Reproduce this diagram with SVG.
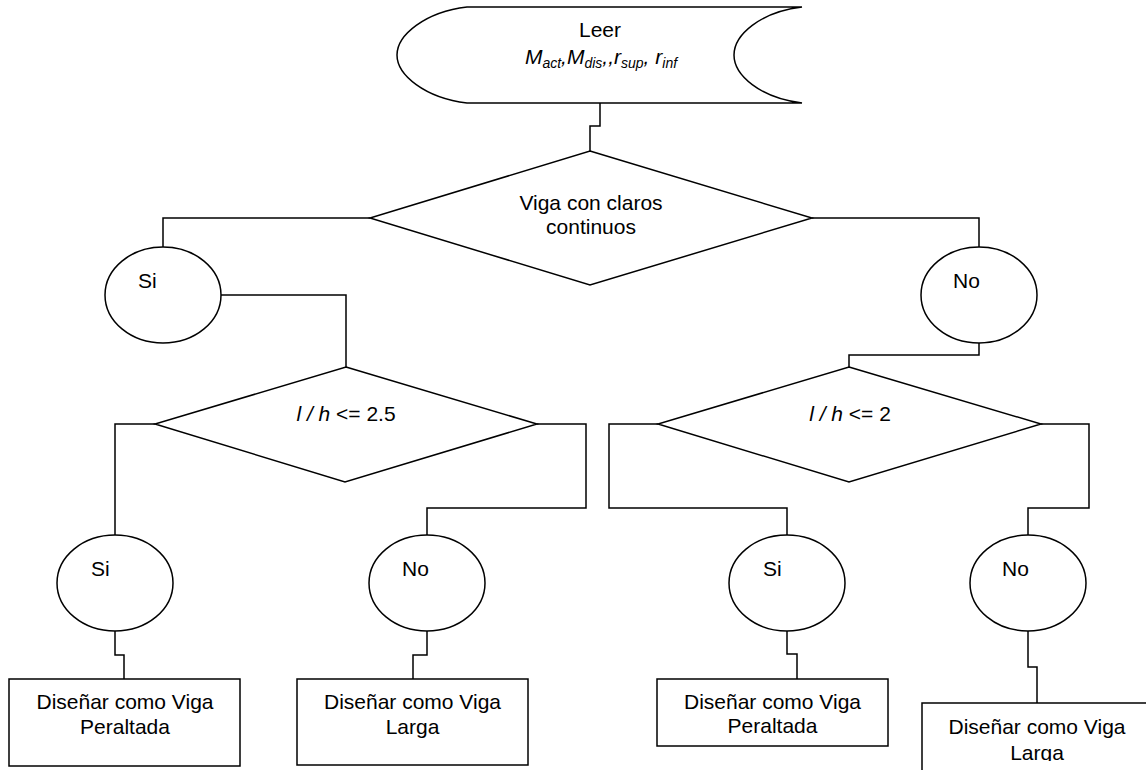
<svg xmlns="http://www.w3.org/2000/svg" width="1146" height="770" viewBox="0 0 1146 770">
<style>
.s{fill:#fff;stroke:#000;stroke-width:1.5}
.c{fill:none;stroke:#000;stroke-width:1.5}
text{font-family:"Liberation Sans",Arial,sans-serif;font-size:21px;fill:#000}
.m{text-anchor:middle}
.i{font-style:italic}
.sub{font-size:14px}
</style>
<defs>
<clipPath id="clip4"><rect x="922" y="703" width="230" height="58"/></clipPath>
</defs>
<rect width="1146" height="770" fill="#fff"/>
<g id="connectors">
<polyline class="c" points="600,103 600,126 590,126 590,151"/>
<polyline class="c" points="370,218 163,218 163,247"/>
<polyline class="c" points="812,218 979,218 979,247"/>
<polyline class="c" points="221,295 346,295 346,367"/>
<polyline class="c" points="979,343 979,355 849,355 849,367"/>
<polyline class="c" points="155,424 115,424 115,535"/>
<polyline class="c" points="537,424 586,424 586,508 427,508 427,535"/>
<polyline class="c" points="658,424 609,424 609,508 787,508 787,535"/>
<polyline class="c" points="1041,424 1089,424 1089,508 1028,508 1028,535"/>
<polyline class="c" points="115,631 115,655 124,655 124,679"/>
<polyline class="c" points="427,631 427,655 413,655 413,679"/>
<polyline class="c" points="787,631 787,654 797,654 797,679"/>
<polyline class="c" points="1028,631 1028,667 1037,667 1037,703"/>
</g>
<g id="leer">
<path class="s" d="M467,7 L802,7 C760,12 734,35 734,55 C734,75 760,98 802,103 L467,103 C425,98 397,75 397,55 C397,35 425,12 467,7 Z"/>
<text class="m" x="600" y="37">Leer</text>
<text class="m i" x="601" y="64">M<tspan class="sub" dy="4">act</tspan><tspan dy="-4">,M</tspan><tspan class="sub" dy="4">dis</tspan><tspan dy="-4">,,r</tspan><tspan class="sub" dy="4">sup</tspan><tspan dy="-4">, r</tspan><tspan class="sub" dy="4">inf</tspan></text>
</g>
<g id="d1">
<polygon class="s" points="590,151 812,218 590,285 370,218"/>
<text class="m" x="591" y="210">Viga con claros</text>
<text class="m" x="591" y="234">continuos</text>
</g>
<g id="si1">
<ellipse class="s" cx="163" cy="295" rx="58" ry="48"/>
<text x="138" y="288">Si</text>
</g>
<g id="no1">
<ellipse class="s" cx="979" cy="295" rx="58" ry="48"/>
<text x="953" y="288">No</text>
</g>
<g id="d2">
<polygon class="s" points="346,367 537,424 345,482 155,424"/>
<text class="m" x="346" y="421"><tspan class="i">l / h</tspan> &lt;= 2.5</text>
</g>
<g id="d3">
<polygon class="s" points="849,367 1041,424 849,482 658,424"/>
<text class="m" x="850" y="421"><tspan class="i">l / h</tspan> &lt;= 2</text>
</g>
<g id="si2">
<ellipse class="s" cx="115" cy="583" rx="58" ry="48"/>
<text x="91" y="576">Si</text>
</g>
<g id="no2">
<ellipse class="s" cx="427" cy="583" rx="58" ry="48"/>
<text x="402" y="576">No</text>
</g>
<g id="si3">
<ellipse class="s" cx="787" cy="583" rx="58" ry="48"/>
<text x="763" y="576">Si</text>
</g>
<g id="no3">
<ellipse class="s" cx="1028" cy="583" rx="58" ry="48"/>
<text x="1002" y="576">No</text>
</g>
<g id="box1">
<rect class="s" x="9" y="679" width="231" height="87"/>
<text class="m" x="125" y="709">Diseñar como Viga</text>
<text class="m" x="125" y="734">Peraltada</text>
</g>
<g id="box2">
<rect class="s" x="297" y="679" width="231" height="86"/>
<text class="m" x="412.5" y="709">Diseñar como Viga</text>
<text class="m" x="412.5" y="734">Larga</text>
</g>
<g id="box3">
<rect class="s" x="657" y="679" width="231" height="67"/>
<text class="m" x="772.5" y="709">Diseñar como Viga</text>
<text class="m" x="772.5" y="733">Peraltada</text>
</g>
<g id="box4">
<rect class="s" x="922" y="703" width="240" height="80"/>
<g clip-path="url(#clip4)">
<text class="m" x="1037" y="734">Diseñar como Viga</text>
<text class="m" x="1037" y="760">Larga</text>
</g>
</g>
</svg>
